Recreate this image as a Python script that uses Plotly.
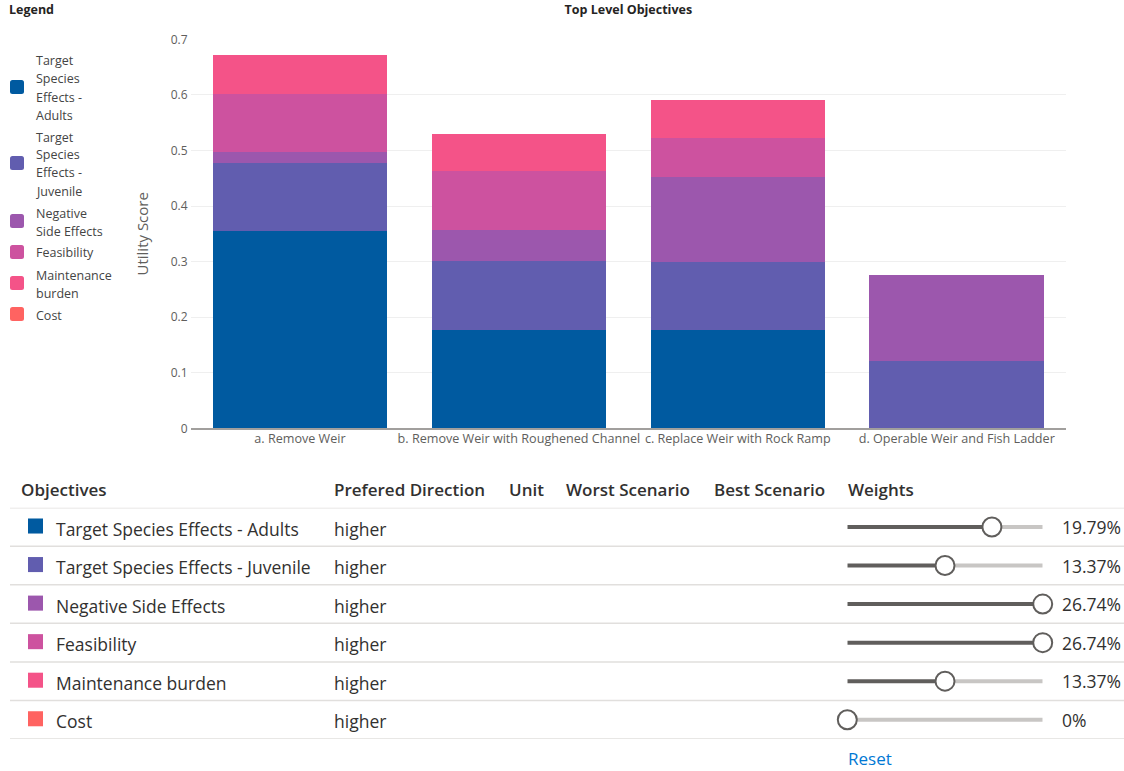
import textwrap
import plotly.graph_objects as go

W, H = 1124, 771

# ---- data ---------------------------------------------------------------
alternatives = [
    "a. Remove Weir",
    "b. Remove Weir with Roughened Channel",
    "c. Replace Weir with Rock Ramp",
    "d. Operable Weir and Fish Ladder",
]
objectives = [
    "Target Species Effects - Adults",
    "Target Species Effects - Juvenile",
    "Negative Side Effects",
    "Feasibility",
    "Maintenance burden",
    "Cost",
]
colors = ["#005AA0", "#615DAF", "#9C57AD", "#CD529F", "#F45388", "#FF6361"]

adults = [0.355, 0.177, 0.177, 0.0]
juvenile = [0.123, 0.124, 0.123, 0.122]
negative_side = [0.019, 0.056, 0.153, 0.153]
feasibility = [0.104, 0.106, 0.070, 0.0]
maintenance = [0.070, 0.067, 0.067, 0.0]
cost = [0.0, 0.0, 0.0, 0.0]
scores = [adults, juvenile, negative_side, feasibility, maintenance, cost]

directions = ["higher", "higher", "higher", "higher", "higher", "higher"]
weights = [19.79, 13.37, 26.74, 26.74, 13.37, 0]

y_ticks = [0, 0.1, 0.2, 0.3, 0.4, 0.5, 0.6, 0.7]

# ---- helpers: page pixels -> paper coordinates ---------------------------
def px(x):
    return x / W


def py(y):
    return 1 - y / H


FONT = "Open Sans"
TEXT = "#323130"
MUTED = "#605e5c"
TABLE_SIZE = 17.5

PLOT_X = (190.5, 1066.2)
PLOT_Y = (428.3, 39.3)

fig = go.Figure()

# ---- stacked bars --------------------------------------------------------
for name, vals, col in zip(objectives, scores, colors):
    fig.add_trace(go.Bar(
        x=alternatives, y=vals, name=name, marker_color=col,
        marker_line_width=0, showlegend=False, xaxis="x", yaxis="y",
    ))

# ---- weight sliders (own axes: x = weight, y = table row) -----------------
wmax = max(weights)
dark_x, dark_y, light_x, light_y = [], [], [], []
for i, w in enumerate(weights):
    dark_x += [0, w, None]
    dark_y += [i, i, None]
    light_x += [w, wmax, None]
    light_y += [i, i, None]

fig.add_trace(go.Scatter(x=light_x, y=light_y, mode="lines",
                         line=dict(color="#c8c6c4", width=4),
                         xaxis="x2", yaxis="y2", showlegend=False,
                         hoverinfo="skip", cliponaxis=False))
fig.add_trace(go.Scatter(x=dark_x, y=dark_y, mode="lines",
                         line=dict(color="#605e5c", width=4),
                         xaxis="x2", yaxis="y2", showlegend=False,
                         hoverinfo="skip", cliponaxis=False))
fig.add_trace(go.Scatter(x=weights, y=list(range(len(weights))), mode="markers",
                         marker=dict(symbol="circle", size=19, color="white",
                                     line=dict(color="#605e5c", width=2)),
                         xaxis="x2", yaxis="y2", showlegend=False,
                         hovertemplate="%{x}%<extra></extra>", cliponaxis=False))

shapes = []
annotations = []

# ---- legend (left column) ------------------------------------------------
annotations.append(dict(text="<b>Legend</b>", x=px(7), y=py(10), xref="paper", yref="paper",
                        xanchor="left", yanchor="middle", showarrow=False,
                        font=dict(family=FONT, size=12.5, color="#252423")))

line_y = 61
for name, col in zip(objectives, colors):
    lines = textwrap.wrap(name, 12, break_on_hyphens=False)
    first = line_y
    for ln in lines:
        annotations.append(dict(text=ln, x=px(34), y=py(line_y), xref="paper", yref="paper",
                                xanchor="left", yanchor="middle", showarrow=False,
                                font=dict(family=FONT, size=12.5, color="#444444")))
        line_y += 18
    mid = (first + line_y - 18) / 2 - 1
    x0, x1, y0, y1 = 10, 24, mid - 7, mid + 7
    r = 2.5
    path = (f"M {px(x0 + r)},{py(y0)} L {px(x1 - r)},{py(y0)} Q {px(x1)},{py(y0)} {px(x1)},{py(y0 + r)} "
            f"L {px(x1)},{py(y1 - r)} Q {px(x1)},{py(y1)} {px(x1 - r)},{py(y1)} "
            f"L {px(x0 + r)},{py(y1)} Q {px(x0)},{py(y1)} {px(x0)},{py(y1 - r)} "
            f"L {px(x0)},{py(y0 + r)} Q {px(x0)},{py(y0)} {px(x0 + r)},{py(y0)} Z")
    shapes.append(dict(type="path", path=path, xref="paper", yref="paper",
                       fillcolor=col, line=dict(width=0)))
    line_y += 4

# ---- objectives table ----------------------------------------------------
headers = [("Objectives", 19), ("Prefered Direction", 332), ("Unit", 507),
           ("Worst Scenario", 564), ("Best Scenario", 712), ("Weights", 846)]
for label, hx in headers:
    annotations.append(dict(text=label, x=px(hx), y=py(490), xref="paper", yref="paper",
                            xanchor="left", yanchor="middle", showarrow=False,
                            font=dict(family=FONT, size=TABLE_SIZE - 0.5, color=TEXT, weight=600)))

for i in range(-1, len(objectives)):
    shapes.append(dict(type="line", xref="paper", yref="y2", x0=px(10), x1=1,
                       y0=i + 0.5, y1=i + 0.5, line=dict(color="#e1dfdd", width=1.5)))

for i, (name, col, d, w) in enumerate(zip(objectives, colors, directions, weights)):
    shapes.append(dict(type="rect", xref="paper", yref="y2", x0=px(28), x1=px(43),
                       y0=i - 0.22, y1=i + 0.17, fillcolor=col, line=dict(width=0)))
    annotations.append(dict(text=name, x=px(54), y=i + 0.04, xref="paper", yref="y2",
                            xanchor="left", yanchor="middle", showarrow=False,
                            font=dict(family=FONT, size=TABLE_SIZE, color=TEXT)))
    annotations.append(dict(text=d, x=px(332), y=i + 0.04, xref="paper", yref="y2",
                            xanchor="left", yanchor="middle", showarrow=False,
                            font=dict(family=FONT, size=TABLE_SIZE, color=TEXT)))
    annotations.append(dict(text=f"{w:g}%", x=px(1060), y=i, xref="paper", yref="y2",
                            xanchor="left", yanchor="middle", showarrow=False,
                            font=dict(family=FONT, size=TABLE_SIZE, color=TEXT)))

annotations.append(dict(text="Reset", x=px(846), y=py(758), xref="paper", yref="paper",
                        xanchor="left", yanchor="middle", showarrow=False,
                        font=dict(family=FONT, size=TABLE_SIZE - 0.5, color="#0078d4")))

# ---- layout ---------------------------------------------------------------
fig.update_layout(
    width=W, height=H,
    margin=dict(l=0, r=0, t=0, b=0, autoexpand=False),
    paper_bgcolor="white", plot_bgcolor="white",
    barmode="stack", bargap=0.2024,
    font=dict(family=FONT, size=12, color=MUTED),
    title=dict(text="<b>Top Level Objectives</b>", x=px(sum(PLOT_X) / 2), xref="paper",
               xanchor="center", y=py(10), yref="container", yanchor="middle",
               font=dict(family=FONT, size=12.5, color="#252423")),
    xaxis=dict(domain=[px(PLOT_X[0]), px(PLOT_X[1])], type="category",
               showline=True, linecolor="#a19f9d", linewidth=1.5,
               showgrid=False, ticks="", tickfont=dict(size=12.6, color=MUTED),
               ticklabelstandoff=-2, automargin=False, anchor="y"),
    yaxis=dict(domain=[py(PLOT_Y[0]), py(PLOT_Y[1])], range=[0, 0.7],
               tickvals=y_ticks, ticktext=[f"{v:g}" for v in y_ticks],
               showgrid=True, gridcolor="#efefef", gridwidth=1,
               zeroline=False, showline=False, ticks="",
               tickfont=dict(size=12, color=MUTED), ticklabelstandoff=2,
               title=dict(text="Utility Score", font=dict(size=15, color=MUTED), standoff=18),
               automargin=False, anchor="x"),
    xaxis2=dict(domain=[px(847.3), px(1042.7)], range=[0, wmax], visible=False,
                anchor="y2", fixedrange=True, automargin=False),
    yaxis2=dict(domain=[py(739), py(507.7)], range=[len(objectives) - 0.5, -0.5],
                visible=False, anchor="x2", fixedrange=True, automargin=False),
    shapes=shapes,
    annotations=annotations,
)

fig.write_html("out.html")
